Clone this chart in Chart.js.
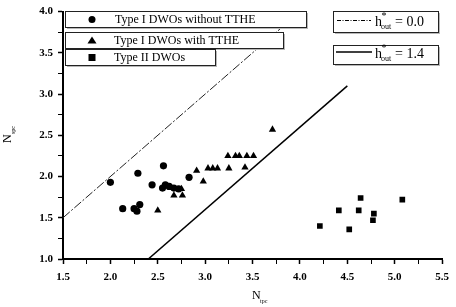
<!DOCTYPE html>
<html lang="en">
<head>
  <meta charset="UTF-8">
  <title>Nspc vs Ntpc</title>
  <script src="https://cdn.jsdelivr.net/npm/chart.js"></script>
  <style>
    html, body { margin: 0; padding: 0; background: #fff; }
    #wrap { width: 456px; height: 307px; }
  </style>
</head>
<body>
  <div id="wrap">
    <canvas id="dwoChart" width="456" height="307"></canvas>
  </div>

  <script>
    // Type I DWOs without TTHE (circles)
    const circX = [2.00, 2.13, 2.29, 2.25, 2.28, 2.31, 2.44, 2.56, 2.55, 2.58, 2.62, 2.67, 2.72, 2.83];
    const circY = [1.93, 1.61, 2.04, 1.61, 1.58, 1.66, 1.90, 2.13, 1.86, 1.90, 1.88, 1.86, 1.85, 1.99];

    // Type I DWOs with TTHE (triangles)
    const triX = [2.50, 2.67, 2.76, 2.75, 2.91, 2.98, 3.03, 3.08, 3.13, 3.25, 3.42, 3.24, 3.32, 3.36, 3.44, 3.51, 3.71];
    const triY = [1.59, 1.77, 1.77, 1.85, 2.07, 1.94, 2.10, 2.10, 2.10, 2.10, 2.11, 2.25, 2.25, 2.25, 2.25, 2.25, 2.57];

    // Type II DWOs (squares)
    const sqX = [4.21, 4.41, 4.52, 4.62, 4.64, 4.78, 4.77, 5.08];
    const sqY = [1.40, 1.59, 1.36, 1.59, 1.74, 1.55, 1.47, 1.72];

    // boundary lines h*out = 0.0 and h*out = 1.4
    const line0X = [1.5, 4.0];
    const line0Y = [1.5, 4.0];
    const line14X = [2.4, 4.5];
    const line14Y = [1.0, 3.1];

    const xTicks = [1.5, 2.0, 2.5, 3.0, 3.5, 4.0, 4.5, 5.0, 5.5];
    const yTicks = [1.0, 1.5, 2.0, 2.5, 3.0, 3.5, 4.0];

    const serif = '"Liberation Serif", "Times New Roman", serif';
    const pts = (xs, ys) => xs.map((v, i) => ({ x: v, y: ys[i] }));

    // draws the framed legend boxes and the axis titles with sub/superscripts
    const decorations = {
      id: 'decorations',
      afterDatasetsDraw(chart) {
        const ctx = chart.ctx;
        ctx.save();

        function box(x, y, w, h) {
          ctx.fillStyle = '#b8b8b8';
          ctx.fillRect(x + 2, y + 2, w, h);
          ctx.fillStyle = '#fff';
          ctx.fillRect(x, y, w, h);
          ctx.strokeStyle = '#222';
          ctx.lineWidth = 1;
          ctx.strokeRect(x + 0.5, y + 0.5, w, h);
          ctx.fillStyle = '#000';
        }

        ctx.textBaseline = 'middle';
        ctx.textAlign = 'left';

        // left legend boxes
        box(65, 11, 241, 16);
        box(65, 32, 218, 16);
        box(65, 49, 150, 16);

        ctx.fillStyle = '#000';
        ctx.font = '12px ' + serif;
        ctx.beginPath();
        ctx.arc(92, 19.5, 3.5, 0, Math.PI * 2);
        ctx.fill();
        ctx.fillText('Type I DWOs without TTHE', 115, 19.5);

        ctx.beginPath();
        ctx.moveTo(92, 36.5);
        ctx.lineTo(96.5, 43.5);
        ctx.lineTo(87.5, 43.5);
        ctx.closePath();
        ctx.fill();
        ctx.fillText('Type I DWOs with TTHE', 114, 40.5);

        ctx.fillRect(88.5, 54, 7, 7);
        ctx.fillText('Type II DWOs', 114, 57.5);

        // right legend boxes
        box(333, 11, 105, 21);
        box(333, 45, 105, 19);

        function hLabel(x, y, val) {
          ctx.fillStyle = '#000';
          ctx.font = '14px ' + serif;
          ctx.fillText('h', x, y);
          ctx.font = '10px ' + serif;
          ctx.fillText('*', x + 6.5, y - 6);
          ctx.font = '8px ' + serif;
          ctx.fillText('out', x + 6, y + 5);
          ctx.font = '14px ' + serif;
          ctx.fillText('= ' + val, x + 20, y);
        }

        ctx.strokeStyle = '#000';
        ctx.lineWidth = 1;
        ctx.setLineDash([4, 1.5, 1, 1.5]);
        ctx.beginPath();
        ctx.moveTo(337, 20.5);
        ctx.lineTo(371, 20.5);
        ctx.stroke();
        ctx.setLineDash([]);
        hLabel(375, 22, '0.0');

        ctx.lineWidth = 1.5;
        ctx.beginPath();
        ctx.moveTo(336, 52);
        ctx.lineTo(372, 52);
        ctx.stroke();
        hLabel(375, 54, '1.4');

        // x axis title: N_tpc
        ctx.fillStyle = '#000';
        ctx.font = '12px ' + serif;
        ctx.fillText('N', 252, 296);
        ctx.font = '6px ' + serif;
        ctx.fillText('tpc', 260, 301);

        // y axis title: N_spc (rotated)
        ctx.translate(8, 143);
        ctx.rotate(-Math.PI / 2);
        ctx.font = '12px ' + serif;
        ctx.fillText('N', 0, 0);
        ctx.font = '6px ' + serif;
        ctx.fillText('spc', 9, 5);

        ctx.restore();
      }
    };

    const ctxDwo = document.getElementById('dwoChart').getContext('2d');

    const dwoChart = new Chart(ctxDwo, {
      type: 'scatter',
      data: {
        datasets: [
          {
            label: 'Type I DWOs without TTHE',
            data: pts(circX, circY),
            pointStyle: 'circle',
            pointRadius: 3.6,
            backgroundColor: '#000',
            borderColor: '#000',
            borderWidth: 0
          },
          {
            label: 'Type I DWOs with TTHE',
            data: pts(triX, triY),
            pointStyle: 'triangle',
            pointRadius: 4.2,
            backgroundColor: '#000',
            borderColor: '#000',
            borderWidth: 0
          },
          {
            label: 'Type II DWOs',
            data: pts(sqX, sqY),
            pointStyle: 'rect',
            pointRadius: 4,
            backgroundColor: '#000',
            borderColor: '#000',
            borderWidth: 0
          },
          {
            label: 'h*out = 0.0',
            data: pts(line0X, line0Y),
            showLine: true,
            pointRadius: 0,
            borderColor: '#222',
            borderWidth: 1,
            borderDash: [9, 2, 2, 2]
          },
          {
            label: 'h*out = 1.4',
            data: pts(line14X, line14Y),
            showLine: true,
            pointRadius: 0,
            borderColor: '#000',
            borderWidth: 1.5
          }
        ]
      },
      options: {
        responsive: false,
        animation: false,
        layout: { padding: { top: 9, right: 13, left: 0, bottom: 0 } },
        plugins: {
          legend: { display: false },
          tooltip: { enabled: false }
        },
        scales: {
          x: {
            type: 'linear',
            min: 1.5,
            max: 5.5,
            afterFit(scale) { scale.height = 48; },
            border: { display: true, color: '#000', width: 2 },
            grid: {
              drawOnChartArea: false,
              drawTicks: true,
              tickLength: 5,
              color: '#000',
              tickWidth: c => (Math.abs(c.tick.value * 2 - Math.round(c.tick.value * 2)) < 1e-6 ? 1.5 : 1)
            },
            ticks: {
              stepSize: 0.25,
              autoSkip: false,
              maxRotation: 0,
              color: '#000',
              padding: 7,
              font: { family: serif, size: 11, weight: 'bold' },
              callback: v => (xTicks.some(t => Math.abs(t - v) < 1e-6) ? v.toFixed(1) : '')
            }
          },
          y: {
            type: 'linear',
            min: 1.0,
            max: 4.0,
            afterFit(scale) { scale.width = 63; },
            border: { display: true, color: '#000', width: 2 },
            grid: {
              drawOnChartArea: false,
              drawTicks: true,
              tickLength: 5,
              color: '#000',
              tickWidth: c => (Math.abs(c.tick.value * 2 - Math.round(c.tick.value * 2)) < 1e-6 ? 1.5 : 1)
            },
            ticks: {
              stepSize: 0.25,
              autoSkip: false,
              color: '#000',
              padding: 5,
              font: { family: serif, size: 11, weight: 'bold' },
              callback: v => (yTicks.some(t => Math.abs(t - v) < 1e-6) ? v.toFixed(1) : '')
            }
          }
        }
      },
      plugins: [decorations]
    });
  </script>
</body>
</html>
